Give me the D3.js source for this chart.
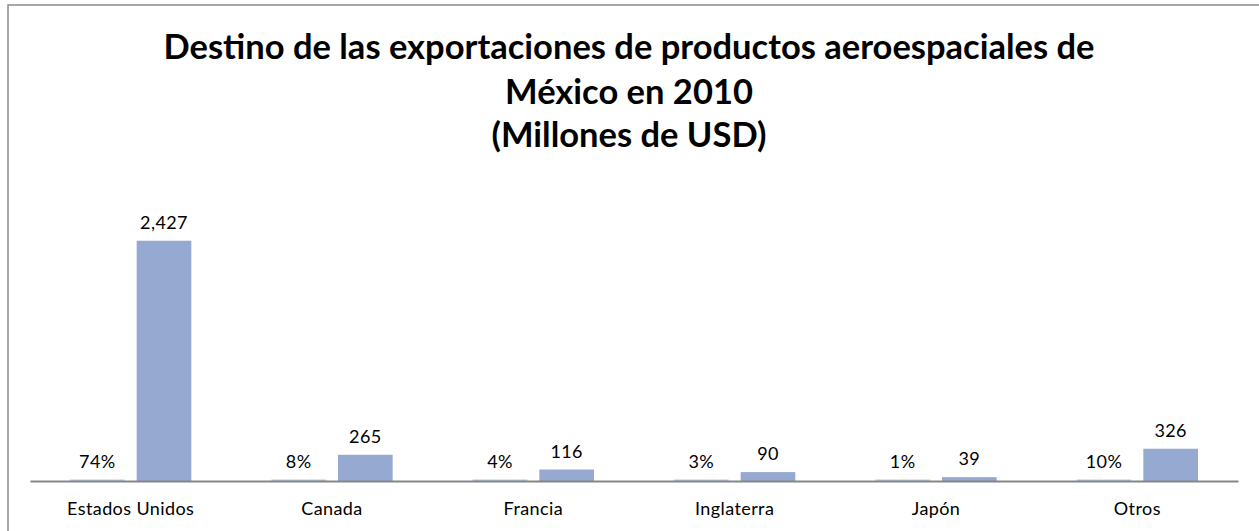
<!DOCTYPE html>
<html>
<head>
<meta charset="utf-8">
<script src="https://cdn.jsdelivr.net/npm/d3@7"></script>
<style>
	body { margin:0; background:#fff; }
	.ChartTitle { font-family:Lato, "Open Sans", sans-serif; font-weight:bold; fill:#000; }
	.BarLabels, .AxisLabels { font-family:Lato, "Open Sans", sans-serif; fill:#000; letter-spacing:0.4px; }
</style>
</head>
<body>
<div id="idChart"></div>
<script>
var aCategories=["Estados Unidos","Canada","Francia","Inglaterra","Japón","Otros"];
var aPercent=[74,8,4,3,1,10];
var aMillions=[2427,265,116,90,39,326];
var aTitle=["Destino de las exportaciones de productos aeroespaciales de","México en 2010","(Millones de USD)"];
var aYDomain=[0,3000];

var iWidth=1259;
var iHeight=531;
var iLeft=30, iRight=1238, iBase=481, iTop=184;

var myCanvas=d3.select("#idChart").append("svg")
	.attr("width",iWidth)
	.attr("height",iHeight);

// frame of the chart area
myCanvas.append("rect")
	.attr("x",8).attr("y",5)
	.attr("width",1262).attr("height",540)
	.attr("fill","none")
	.attr("stroke","#8a8a8a")
	.attr("stroke-width",1.5);

var myTitle=myCanvas.append("text")
	.attr("class","ChartTitle")
	.attr("text-anchor","middle")
	.style("font-size","34.5px");
var aTitleY=[59,104,147];
aTitle.forEach(function(sLine,i){
	myTitle.append("tspan").attr("x",629).attr("y",aTitleY[i]).text(sLine);
});

var myData=aCategories.map(function(sCat,i){
	return {sName:sCat, aVals:[{sKey:"pct",fVal:aPercent[i]/100,sText:aPercent[i]+"%"},{sKey:"usd",fVal:aMillions[i],sText:d3.format(",")(aMillions[i])}]};
});

var xAxes=d3.scaleBand().domain(aCategories).range([iLeft,iRight]).padding(0);
var xSub=d3.scaleBand().domain(["pct","usd"]).range([0,xAxes.bandwidth()]).paddingInner(0.18).paddingOuter(0.6);
var yAxes=d3.scaleLinear().domain(aYDomain).range([iBase,iTop]);

var myGroups=myCanvas.selectAll(".BarGroups")
	.data(myData)
	.enter().append("g")
	.attr("class","BarGroups")
	.attr("transform",function(myNode){return "translate("+xAxes(myNode.sName)+",0)";});

myGroups.selectAll("rect")
	.data(function(myNode){return myNode.aVals;})
	.enter().append("rect")
	.attr("x",function(myVal){return xSub(myVal.sKey);})
	.attr("width",xSub.bandwidth())
	.attr("y",function(myVal){return myVal.sKey=="pct" ? iBase-1.5 : yAxes(myVal.fVal);})
	.attr("height",function(myVal){return myVal.sKey=="pct" ? 1.5 : iBase-yAxes(myVal.fVal);})
	.attr("fill",function(myVal){return myVal.sKey=="pct" ? "#b9cce4" : "#95a9d1";});

myGroups.selectAll(".BarLabels")
	.data(function(myNode){return myNode.aVals;})
	.enter().append("text")
	.attr("class","BarLabels")
	.attr("text-anchor","middle")
	.style("font-size","18px")
	.attr("x",function(myVal){return xSub(myVal.sKey)+xSub.bandwidth()/2;})
	.attr("y",function(myVal){return (myVal.sKey=="pct" ? iBase-1.5 : yAxes(myVal.fVal))-12;})
	.text(function(myVal){return myVal.sText;});

// category axis
var myAxis=myCanvas.append("g")
	.attr("transform","translate(0,"+iBase+")")
	.call(d3.axisBottom(xAxes).tickSize(0).tickPadding(0));
myAxis.select(".domain").attr("stroke","#868686").attr("stroke-width",2);
myAxis.selectAll(".tick text")
	.attr("class","AxisLabels")
	.attr("dy",null)
	.attr("y",34)
	.style("font-size","18px")
	.style("font-family","Lato, 'Open Sans', sans-serif");
</script>
</body>
</html>
